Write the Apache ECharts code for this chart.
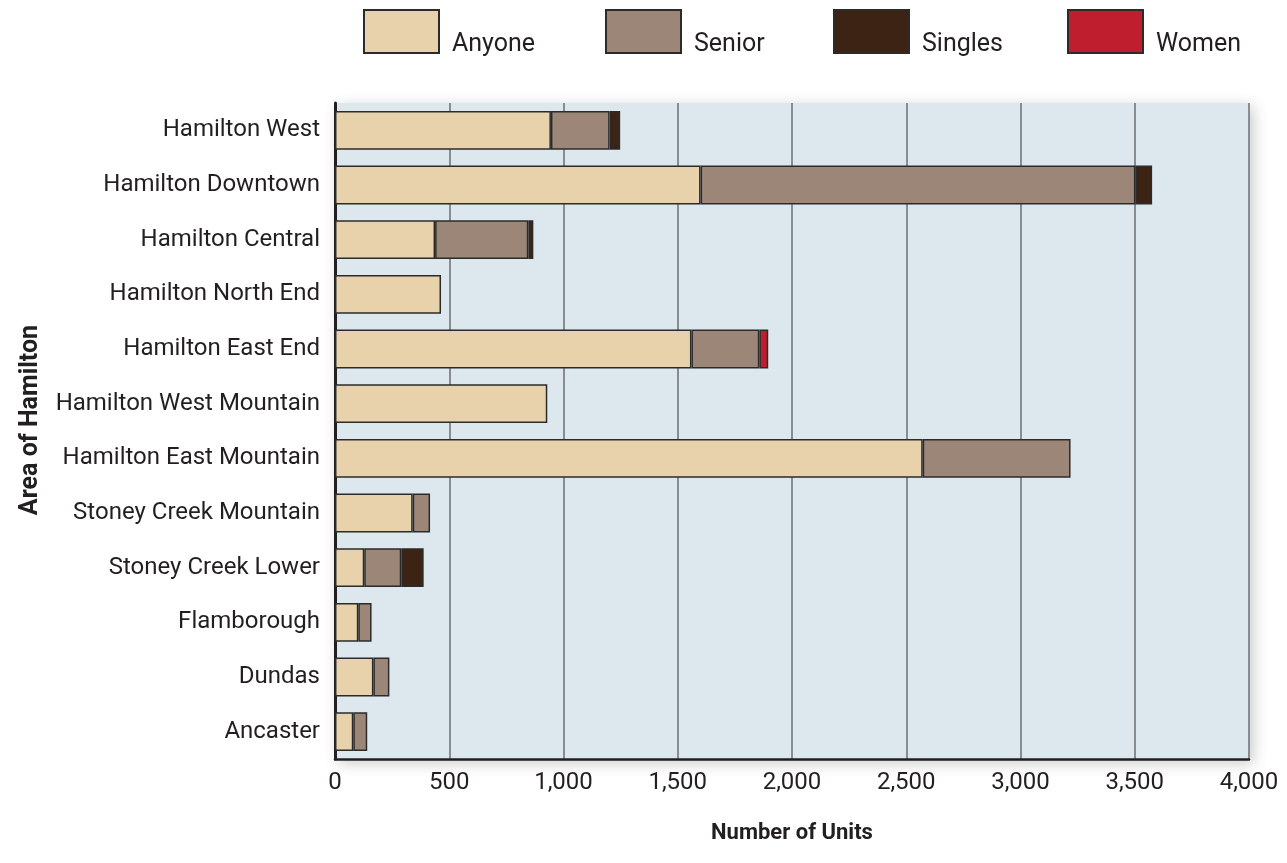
<!DOCTYPE html>
<html>
<head>
<meta charset="utf-8">
<script src="https://cdn.jsdelivr.net/npm/echarts@6/dist/echarts.min.js"></script>
<style>
  html, body { margin: 0; padding: 0; background: #fff; }
  #chart { width: 1287px; height: 863px; }
</style>
</head>
<body>
<div id="chart"></div>
<script>
const areas = ['Hamilton West', 'Hamilton Downtown', 'Hamilton Central', 'Hamilton North End',
  'Hamilton East End', 'Hamilton West Mountain', 'Hamilton East Mountain', 'Stoney Creek Mountain',
  'Stoney Creek Lower', 'Flamborough', 'Dundas', 'Ancaster'];
const anyone  = [945, 1600, 438, 464, 1560, 929, 2572, 340, 128, 102, 168, 80];
const senior  = [257, 1903, 408, null, 297, null, 647, 76, 162, 58, 70, 61];
const singles = [46, 73, 22, null, null, null, null, null, 98, null, null, null];
const women   = [null, null, null, null, 39, null, null, null, null, null, null, null];
const xTicks = ['0', '500', '1,000', '1,500', '2,000', '2,500', '3,000', '3,500', '4,000'];

const colors = { Anyone: '#E8D2AC', Senior: '#9C8677', Singles: '#3C2314', Women: '#BE1E2D' };
const seriesData = [['Anyone', anyone], ['Senior', senior], ['Singles', singles], ['Women', women]];
const legendLeft = [363, 605, 833, 1067];

const font = 'Roboto, "Open Sans", sans-serif';

const chart = echarts.init(document.getElementById('chart'));

chart.setOption({
  backgroundColor: '#fff',
  animation: false,
  legend: seriesData.map((s, i) => ({
    left: legendLeft[i],
    top: 9,
    padding: 0,
    icon: 'rect',
    itemWidth: 75,
    itemHeight: 43,
    data: [s[0]],
    formatter: '{t|{name}}',
    textStyle: {
      rich: { t: { fontFamily: font, fontSize: 25, color: '#231f20', padding: [26, 0, 0, 8] } }
    }
  })),
  grid: {
    left: 335, right: 38, top: 103, bottom: 104,
    show: true,
    backgroundColor: '#DDE7EE',
    borderWidth: 0,
    shadowBlur: 14,
    shadowColor: 'rgba(0,0,0,0.22)',
    shadowOffsetX: 4,
    shadowOffsetY: 4
  },
  xAxis: {
    type: 'value',
    min: 0, max: 4000, interval: 500,
    name: 'Number of Units',
    nameLocation: 'middle',
    nameGap: 63,
    nameTextStyle: { fontFamily: font, fontWeight: 'bold', fontSize: 22, color: '#231f20' },
    axisLine: { show: true, lineStyle: { color: '#231f20', width: 2.5 } },
    axisTick: { show: false },
    axisLabel: {
      fontFamily: font, fontSize: 24, color: '#231f20', margin: 12,
      formatter: v => xTicks[Math.round(v / 500)]
    },
    splitLine: { show: true, lineStyle: { color: '#6d6e71', width: 1.5 } }
  },
  yAxis: {
    type: 'category',
    inverse: true,
    data: areas,
    name: 'Area of Hamilton',
    nameLocation: 'middle',
    nameGap: 292,
    nameRotate: 90,
    nameTextStyle: {
      fontFamily: font, fontWeight: 'bold', fontSize: 25, color: '#231f20',
      padding: [0, 0, 0, 22]
    },
    axisLine: { show: true, lineStyle: { color: '#231f20', width: 3 } },
    axisTick: { show: false },
    axisLabel: { fontFamily: font, fontSize: 24, color: '#231f20', margin: 15 }
  },
  series: seriesData.map(s => ({
    name: s[0],
    type: 'bar',
    stack: 'units',
    barCategoryGap: '29%',
    data: s[1],
    itemStyle: { color: colors[s[0]], borderColor: '#2b2b2b', borderWidth: 1.5 }
  }))
});
</script>
</body>
</html>
